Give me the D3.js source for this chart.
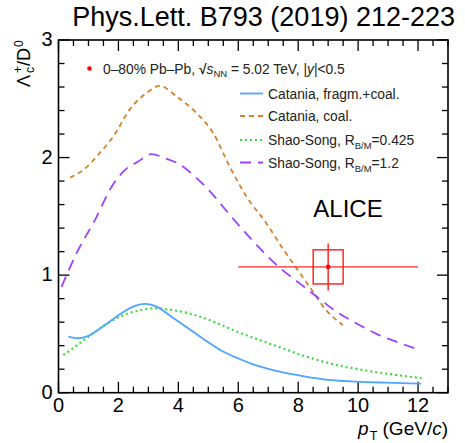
<!DOCTYPE html>
<html>
<head>
<meta charset="utf-8">
<script src="https://cdn.jsdelivr.net/npm/d3@7"></script>
<style>
  html, body { margin: 0; padding: 0; background: #fff; }
  svg { display: block; font-family: "Liberation Sans", Arial, Helvetica, sans-serif; }
</style>
</head>
<body>
<svg id="chart" width="465" height="443"></svg>
<script>
// Lambda_c+/D0 ratio in 0-80% Pb-Pb collisions vs pT, with model curves

// ALICE measurement
const dataPt = [9];
const dataVal = [1.07];
const dataPtLow = [6], dataPtHigh = [12];
const dataStat = [0.2];
const dataSyst = [0.145];
const dataBoxHalfWidth = [0.5];

// Catania, fragmentation + coalescence
const cataniaFcPt  = [0.33, 0.66, 1.0, 1.55, 2.1, 2.55, 2.88, 3.22, 3.77, 4.33, 4.88, 5.44, 5.99, 6.45, 7.16, 7.94, 8.83, 9.94, 10.94, 12.1];
const cataniaFcVal = [0.477, 0.463, 0.483, 0.576, 0.676, 0.738, 0.755, 0.738, 0.647, 0.548, 0.449, 0.357, 0.293, 0.246, 0.193, 0.151, 0.114, 0.094, 0.085, 0.077];

// Catania, coalescence only
const cataniaCoPt  = [0.38, 0.83, 1.38, 1.83, 2.38, 2.94, 3.38, 3.94, 4.6, 5.16, 5.72, 6.27, 6.94, 7.5, 7.83, 8.38, 8.94, 9.49];
const cataniaCoVal = [1.83, 1.895, 2.04, 2.18, 2.41, 2.55, 2.61, 2.52, 2.38, 2.21, 1.92, 1.67, 1.44, 1.22, 1.10, 0.90, 0.70, 0.576];

// Shao-Song, R_B/M = 0.425
const shao0425Pt  = [0.16, 0.55, 1.0, 1.55, 2.1, 2.66, 3.22, 3.77, 4.33, 4.88, 5.44, 6.0, 6.55, 7.4, 7.94, 9.05, 10.16, 11.27, 12.16];
const shao0425Val = [0.32, 0.39, 0.477, 0.576, 0.653, 0.698, 0.718, 0.704, 0.676, 0.633, 0.576, 0.515, 0.463, 0.385, 0.335, 0.25, 0.193, 0.151, 0.122];

// Shao-Song, R_B/M = 1.2
const shao12Pt  = [0.1, 0.66, 1.22, 1.77, 2.22, 2.66, 3.1, 3.55, 3.99, 4.55, 5.1, 5.66, 6.35, 6.94, 7.49, 8.05, 8.6, 9.27, 9.94, 10.7, 11.27, 11.88];
const shao12Val = [0.90, 1.215, 1.47, 1.75, 1.895, 1.966, 2.03, 1.995, 1.95, 1.84, 1.70, 1.53, 1.33, 1.17, 1.04, 0.93, 0.82, 0.69, 0.59, 0.49, 0.434, 0.378];

const xTicks = [0, 2, 4, 6, 8, 10, 12];
const yTicks = [0, 1, 2, 3];

const svg = d3.select("#chart");
const frame = { left: 58.5, right: 448, top: 40, bottom: 392.7 };

const x = d3.scaleLinear().domain([0, 13]).range([frame.left, frame.right]);
const y = d3.scaleLinear().domain([0, 3]).range([frame.bottom, frame.top]);

// title
svg.append("text")
  .attr("x", 455).attr("y", 26)
  .attr("text-anchor", "end")
  .attr("font-size", 27)
  .attr("fill", "#000")
  .text("Phys.Lett. B793 (2019) 212-223");

// ticks on all four sides, ROOT style (inward)
const ticks = svg.append("g").attr("stroke", "#000").attr("stroke-width", 1.3);
const xMinor = d3.range(0, 13.01, 0.5);
const yMinor = d3.range(0, 3.001, 0.2);
xMinor.forEach(v => {
  const major = Math.abs(v / 2 - Math.round(v / 2)) < 1e-6;
  const len = major ? 11 : 6;
  ticks.append("line").attr("x1", x(v)).attr("x2", x(v)).attr("y1", frame.bottom).attr("y2", frame.bottom - len);
  ticks.append("line").attr("x1", x(v)).attr("x2", x(v)).attr("y1", frame.top).attr("y2", frame.top + len);
});
yMinor.forEach(v => {
  const major = Math.abs(v - Math.round(v)) < 1e-6;
  const len = major ? 11 : 6;
  ticks.append("line").attr("x1", frame.left).attr("x2", frame.left + len).attr("y1", y(v)).attr("y2", y(v));
  ticks.append("line").attr("x1", frame.right).attr("x2", frame.right - len).attr("y1", y(v)).attr("y2", y(v));
});

// frame
svg.append("rect")
  .attr("x", frame.left).attr("y", frame.top)
  .attr("width", frame.right - frame.left).attr("height", frame.bottom - frame.top)
  .attr("fill", "none").attr("stroke", "#000").attr("stroke-width", 1.6);

// tick labels
svg.append("g").selectAll("text").data(xTicks).join("text")
  .attr("x", d => x(d)).attr("y", frame.bottom + 18.8)
  .attr("text-anchor", "middle").attr("font-size", 20)
  .text(d => d);
svg.append("g").selectAll("text").data(yTicks).join("text")
  .attr("x", frame.left - 6).attr("y", d => y(d) + 6.2)
  .attr("text-anchor", "end").attr("font-size", 20)
  .text(d => d);

// axis titles
const xt = svg.append("text")
  .attr("x", 448).attr("y", 434.5)
  .attr("text-anchor", "end").attr("font-size", 19);
xt.append("tspan").attr("font-style", "italic").text("p");
xt.append("tspan").attr("font-size", 12.5).attr("dx", 1).attr("dy", 5).text("T");
xt.append("tspan").attr("dy", -5).text(" (GeV/");
xt.append("tspan").attr("font-style", "italic").text("c");
xt.append("tspan").text(")");

const yt = svg.append("text")
  .attr("transform", "translate(30,87) rotate(-90)")
  .attr("text-anchor", "start").attr("font-size", 18);
yt.append("tspan").text("Λ");
yt.append("tspan").attr("font-size", 12).attr("dx", 2).attr("dy", -8).text("+");
yt.append("tspan").attr("font-size", 12).attr("dx", -7).attr("dy", 12).text("c");
yt.append("tspan").attr("dx", 1).attr("dy", -4).text("/D");
yt.append("tspan").attr("font-size", 12).attr("dx", 1).attr("dy", -7).text("0");

// model curves
svg.append("clipPath").attr("id", "plotArea").append("rect")
  .attr("x", frame.left).attr("y", frame.top)
  .attr("width", frame.right - frame.left).attr("height", frame.bottom - frame.top);

const line = d3.line().x(d => x(d[0])).y(d => y(d[1])).curve(d3.curveMonotoneX);
const curves = [
  { pt: cataniaCoPt, val: cataniaCoVal, color: "#d9802e", dash: "5,4", width: 1.8 },
  { pt: shao12Pt, val: shao12Val, color: "#a040ff", dash: "11,7", width: 1.8 },
  { pt: shao0425Pt, val: shao0425Val, color: "#3ddc3d", dash: "2,3", width: 2.2 },
  { pt: cataniaFcPt, val: cataniaFcVal, color: "#4da6ff", dash: null, width: 1.8 }
];
const gCurves = svg.append("g").attr("clip-path", "url(#plotArea)");
curves.forEach(c => {
  gCurves.append("path")
    .datum(c.pt.map((p, i) => [p, c.val[i]]))
    .attr("d", line)
    .attr("fill", "none")
    .attr("stroke", c.color)
    .attr("stroke-width", c.width)
    .attr("stroke-dasharray", c.dash);
});

// data point with stat. error bars and syst. box
const gData = svg.append("g");
dataPt.forEach((p, i) => {
  gData.append("line")
    .attr("x1", x(dataPtLow[i])).attr("x2", x(dataPtHigh[i]))
    .attr("y1", y(dataVal[i])).attr("y2", y(dataVal[i]))
    .attr("stroke", "#ff3030").attr("stroke-opacity", 0.75).attr("stroke-width", 1.6);
  gData.append("rect")
    .attr("x", x(p - dataBoxHalfWidth[i])).attr("y", y(dataVal[i] + dataSyst[i]))
    .attr("width", x(p + dataBoxHalfWidth[i]) - x(p - dataBoxHalfWidth[i]))
    .attr("height", y(dataVal[i] - dataSyst[i]) - y(dataVal[i] + dataSyst[i]))
    .attr("fill", "none").attr("stroke", "#ff1a1a").attr("stroke-width", 1.4);
  gData.append("line")
    .attr("x1", x(p)).attr("x2", x(p))
    .attr("y1", y(dataVal[i] + dataStat[i])).attr("y2", y(dataVal[i] - dataStat[i]))
    .attr("stroke", "#ff1a1a").attr("stroke-width", 1.4);
  gData.append("circle")
    .attr("cx", x(p)).attr("cy", y(dataVal[i])).attr("r", 2.3).attr("fill", "#ff0000");
});

// ALICE label
svg.append("text")
  .attr("x", 348).attr("y", 217)
  .attr("text-anchor", "middle").attr("font-size", 24)
  .text("ALICE");

// legend: data
svg.append("circle").attr("cx", 89.5).attr("cy", 68.5).attr("r", 2.3).attr("fill", "#ff0000");
const lt = svg.append("text").attr("x", 103).attr("y", 73.5).attr("font-size", 13.8).attr("fill", "#222");
lt.append("tspan").text("0–80% Pb–Pb, ");
lt.append("tspan").attr("font-weight", "bold").text("√");
lt.append("tspan").attr("font-style", "italic").text("s");
lt.append("tspan").attr("font-size", 9.5).attr("dy", 3).text("NN");
lt.append("tspan").attr("dy", -3).text(" = 5.02 TeV, |");
lt.append("tspan").attr("font-style", "italic").text("y");
lt.append("tspan").text("|<0.5");

// legend: models
const legendRows = [
  { label: ["Catania, fragm.+coal."], c: curves[3] },
  { label: ["Catania, coal."], c: curves[0] },
  { label: ["Shao-Song, R", "B/M", "=0.425"], c: curves[2] },
  { label: ["Shao-Song, R", "B/M", "=1.2"], c: curves[1] }
];
const rowY = [93.5, 116, 140, 162.5];
legendRows.forEach((r, i) => {
  svg.append("line")
    .attr("x1", 240).attr("x2", 263)
    .attr("y1", rowY[i]).attr("y2", rowY[i])
    .attr("stroke", r.c.color).attr("stroke-width", r.c.width)
    .attr("stroke-dasharray", r.c.dash);
  const t = svg.append("text").attr("x", 268).attr("y", rowY[i] + 5)
    .attr("font-size", 13.8).attr("fill", "#222");
  t.append("tspan").text(r.label[0]);
  if (r.label.length > 1) {
    t.append("tspan").attr("font-size", 9.5).attr("dy", 4).text(r.label[1]);
    t.append("tspan").attr("dy", -4).text(r.label[2]);
  }
});
</script>
</body>
</html>
